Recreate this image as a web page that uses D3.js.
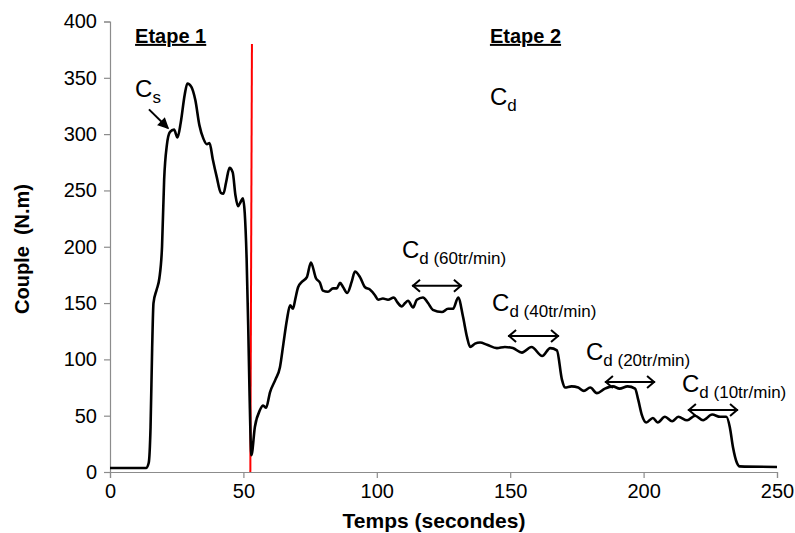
<!DOCTYPE html>
<html lang="fr">
    <head>
        <meta charset="utf-8">
        <title>Couple en fonction du temps</title>
        <script type="text/javascript" src="https://cdn.jsdelivr.net/npm/d3@7"></script>
        <style type="text/css">
            body { margin: 0; background: #fff; }
            text { font-family: "Liberation Sans", Arial, sans-serif; }
        </style>
    </head>
    <body>
        <script type="text/javascript">

            //Width and height
            var w = 795;
            var h = 533;
            var margin = {top: 21.5, right: 18, bottom: 61, left: 110};

            // Temps (s) et couple (N.m)
            var temps = [0, 13.5, 14.5, 15.2, 15.8, 16.3, 17.5, 18.5, 19.5, 20.3, 21.3, 22.5, 24, 25.3, 26.5, 28, 29, 30.5,
                32, 33.5, 35, 36.3, 37.3, 38.5, 40, 41.5, 42.5, 43.5, 44.8, 46, 47, 48, 49, 49.8, 50.5, 51.2, 51.8, 52.3, 53,
                54.3, 56.2, 57.4, 58.5, 60, 62, 63.7, 65, 66.3, 67.5, 68.6, 69.4, 70.5, 72, 73.8, 75.3, 77.2, 78.7, 79.8,
                81.7, 83.6, 85, 86.2, 87.4, 88.9, 90.6, 91.8, 93.7, 95.6, 97.4, 99.3, 100.5, 102.3, 104.2, 106.4, 107.6,
                109.4, 110.6, 111.7, 113.6, 115, 117.3, 119.2, 121, 124.4, 126.7, 128.6, 130.5, 132.3, 133.8, 135, 136.8,
                138.7, 141.3, 145, 148, 151, 154.4, 158, 162, 165, 167.5, 169.4, 170.5, 173, 175.5, 177.6, 180, 182.5,
                185.5, 188.5, 191, 194, 196.8, 198, 199.3, 201, 203.5, 205.3, 208, 210.7, 213, 216.3, 219.3, 222.3, 225.7,
                228.7, 231, 232.3, 233.5, 235, 236, 250];
            var couple = [3.5, 3.5, 8, 40, 110, 150, 162, 172, 200, 260, 290, 302, 304, 297, 310, 335, 345, 342,
                330, 308, 296, 291, 292, 278, 262, 248, 247, 257, 270, 266, 246, 236, 240, 243, 230, 190, 130, 70, 15,
                40, 55, 59, 57, 71, 82, 93, 114, 135, 148, 145, 153, 164, 169, 173, 186, 172, 168, 161,
                160, 163, 163, 168, 164, 159, 169, 178, 173, 164, 162, 157, 153, 154, 153, 155, 151,
                147, 150, 152, 146, 153, 155, 150, 144, 142, 145, 145, 155, 138, 120, 111, 114,
                115, 113, 110, 111, 110, 106, 111, 103, 110, 108, 82, 75, 76, 75, 72, 75, 70,
                74, 76, 74, 76, 74, 64, 51, 44, 48, 44, 49, 45, 49, 46, 50, 46, 51,
                49, 49, 40, 22, 8, 5, 4.5];

            // limite entre les deux etapes
            var limiteTemps = [52.6, 53.2];
            var limiteCouple = [0, 380];

            var xTicks = [0, 50, 100, 150, 200, 250];
            var yTicks = [0, 50, 100, 150, 200, 250, 300, 350, 400];

            // vitesses de rotation de l'etape 2
            var vitesses = ["60tr/min", "40tr/min", "20tr/min", "10tr/min"];

            var svg = d3.select("body")
                        .append("svg")
                        .attr("width", w)
                        .attr("height", h);

            var x = d3.scaleLinear()
                      .domain([0, 250])
                      .range([margin.left, w - margin.right]);
            var y = d3.scaleLinear()
                      .domain([0, 400])
                      .range([h - margin.bottom, margin.top]);

            //Axes
            var xAxis = svg.append("g")
                .attr("transform", "translate(0," + y(0) + ")")
                .call(d3.axisBottom(x).tickValues(xTicks).tickSize(6).tickPadding(6));
            var yAxis = svg.append("g")
                .attr("transform", "translate(" + x(0) + ",0)")
                .call(d3.axisLeft(y).tickValues(yTicks).tickSize(6).tickPadding(7));

            [xAxis, yAxis].forEach(function(a) {
                a.selectAll("path, line").attr("stroke", "#8c8c8c").attr("stroke-width", 1.2);
                a.selectAll("text")
                 .attr("font-size", "20px")
                 .attr("font-family", "Liberation Sans, Arial, sans-serif")
                 .attr("fill", "#000");
            });

            svg.append("text")
                .text("Temps (secondes)")
                .attr("x", 434)
                .attr("y", 528)
                .attr("text-anchor", "middle")
                .attr("font-size", "21px")
                .attr("font-weight", "bold");

            svg.append("text")
                .text("Couple\u00a0 (N.m)")
                .attr("transform", "translate(29,249) rotate(-90)")
                .attr("text-anchor", "middle")
                .attr("font-size", "20px")
                .attr("font-weight", "bold");

            //Courbe
            var pts = temps.map(function(t, i) { return [t, couple[i]]; });
            var line = d3.line()
                .x(function(d) { return x(d[0]); })
                .y(function(d) { return y(d[1]); })
                .curve(d3.curveMonotoneX);

            svg.append("line")
                .attr("x1", x(limiteTemps[0]))
                .attr("y1", y(limiteCouple[0]))
                .attr("x2", x(limiteTemps[1]))
                .attr("y2", y(limiteCouple[1]))
                .attr("stroke", "#ff0000")
                .attr("stroke-width", 2);

            svg.append("path")
                .datum(pts)
                .attr("d", line)
                .attr("fill", "none")
                .attr("stroke", "#000")
                .attr("stroke-width", 2.6)
                .attr("stroke-linejoin", "round");

            //Etapes
            [["Etape 1", 9.4], ["Etape 2", 142.4]].forEach(function(e) {
                svg.append("text")
                    .text(e[0])
                    .attr("x", x(e[1]))
                    .attr("y", y(381))
                    .attr("font-size", "20px")
                    .attr("font-weight", "bold")
                    .attr("text-decoration", "underline");
            });

            //Label C avec indice
            function labelC(tx, ty, sub, extra) {
                var t = svg.append("text")
                    .attr("x", x(tx))
                    .attr("y", y(ty))
                    .attr("font-size", "24px");
                t.append("tspan").text("C");
                t.append("tspan")
                    .attr("font-size", "17px")
                    .attr("dy", 6)
                    .text(sub + (extra ? " (" + extra + ")" : ""));
            }

            labelC(9.4, 333, "s");
            labelC(142.4, 326, "d");

            // fleche vers Cs
            var ax1 = x(14.6), ay1 = y(322), ax2 = x(21.7), ay2 = y(305.4);
            svg.append("line")
                .attr("x1", ax1).attr("y1", ay1)
                .attr("x2", ax2).attr("y2", ay2)
                .attr("stroke", "#000").attr("stroke-width", 2);
            var ang = Math.atan2(ay2 - ay1, ax2 - ax1);
            svg.append("path")
                .attr("d", "M" + (ax2 - 10 * Math.cos(ang - 0.45)) + "," + (ay2 - 10 * Math.sin(ang - 0.45)) +
                           "L" + ax2 + "," + ay2 +
                           "L" + (ax2 - 10 * Math.cos(ang + 0.45)) + "," + (ay2 - 10 * Math.sin(ang + 0.45)) + "Z")
                .attr("fill", "#000")
                .attr("stroke", "#000")
                .attr("stroke-width", 1.5);

            // paliers de vitesse
            var labelPos = [[109.4, 190], [143.2, 143], [178.4, 99.5], [214.4, 71]];
            var arrowPos = [[113.2, 131.9, 165.4], [149.2, 168.3, 120.8], [185.5, 204.3, 80], [216.6, 235.4, 55]];

            vitesses.forEach(function(v, i) {
                labelC(labelPos[i][0], labelPos[i][1], "d", v);
                var x1 = x(arrowPos[i][0]), x2 = x(arrowPos[i][1]), yy = y(arrowPos[i][2]);
                svg.append("line")
                    .attr("x1", x1).attr("y1", yy)
                    .attr("x2", x2).attr("y2", yy)
                    .attr("stroke", "#000").attr("stroke-width", 2);
                svg.append("path")
                    .attr("d", "M" + (x1 + 8) + "," + (yy - 6) + "L" + (x1 + 1) + "," + yy + "L" + (x1 + 8) + "," + (yy + 6) +
                               "M" + (x2 - 8) + "," + (yy - 6) + "L" + (x2 - 1) + "," + yy + "L" + (x2 - 8) + "," + (yy + 6))
                    .attr("fill", "none")
                    .attr("stroke", "#000")
                    .attr("stroke-width", 2);
            });

        </script>
    </body>
</html>
